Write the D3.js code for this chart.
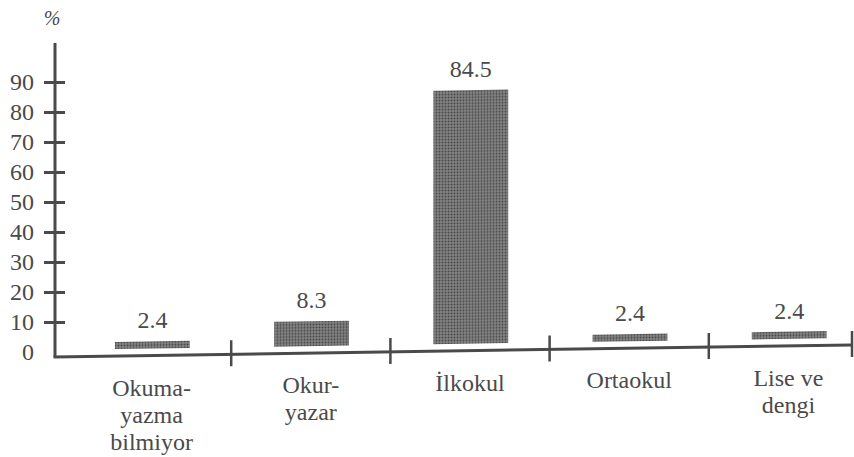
<!DOCTYPE html>
<html><head><meta charset="utf-8">
<script src="https://cdn.jsdelivr.net/npm/d3@7"></script>
<style>body{margin:0;background:#fff}svg{display:block}</style>
</head><body>
<script>
const categories = [["Okuma-","yazma","bilmiyor"],["Okur-","yazar"],["İlkokul"],["Ortaokul"],["Lise ve","dengi"]];
const values = [2.4, 8.3, 84.5, 2.4, 2.4];
const valueLabels = ["2.4","8.3","84.5","2.4","2.4"];
const yTicks = [0,10,20,30,40,50,60,70,80,90];

const W=854,H=457;
const FONT="Liberation Serif";
const ink="#4a4a4a";
const svg=d3.select("body").append("svg").attr("width",W).attr("height",H);
const defs=svg.append("defs");
const pat=defs.append("pattern").attr("id","dots").attr("width",3).attr("height",3).attr("patternUnits","userSpaceOnUse");
pat.append("rect").attr("width",3).attr("height",3).attr("fill","#858585");
pat.append("circle").attr("cx",1.5).attr("cy",1.5).attr("r",1.05).attr("fill","#444");

const x=d3.scaleBand().domain(d3.range(categories.length)).range([72,868]).paddingInner(0).paddingOuter(0);
const y=d3.scaleLinear().domain([0,100]).range([352,52]);
const axisX=55;
const base=y(0)+5;
const SKEW=-0.87;
const tilt=px=>(px-axisX)*Math.tan(SKEW*Math.PI/180);

// slight scan tilt of the original page (marks only; text stays upright)
const root=svg.append("g").attr("transform",`translate(${axisX},${y(0)}) skewY(${SKEW}) translate(${-axisX},${-y(0)})`);

// bars
root.selectAll("rect.bar").data(values).join("rect").attr("class","bar")
  .attr("x",(d,i)=>x(i)+x.bandwidth()*0.27).attr("width",x.bandwidth()*0.47)
  .attr("y",d=>y(d)-2).attr("height",d=>y(0)-y(d)).attr("fill","url(#dots)");

// value labels
svg.selectAll("text.val").data(values).join("text").attr("class","val")
  .attr("x",(d,i)=>x(i)+x.bandwidth()*0.505).attr("y",(d,i)=>y(d)-15+tilt(x(i)+x.bandwidth()*0.505))
  .attr("text-anchor","middle").attr("font-size",24).attr("fill",ink).attr("font-family",FONT).text((d,i)=>valueLabels[i]);

// y axis
const yAxis=d3.axisLeft(y).tickValues(yTicks).tickSize(0).tickPadding(0);
const gy=svg.append("g").attr("transform",`translate(${axisX},0)`).call(yAxis);
gy.attr("font-family",FONT);
gy.select(".domain").remove();
gy.selectAll(".tick text").attr("x",-21).attr("font-size",24).attr("fill",ink).attr("font-family",FONT);
gy.selectAll(".tick").filter(d=>d>0).append("line").attr("x1",-11).attr("x2",10).attr("stroke",ink).attr("stroke-width",3);
root.append("line").attr("x1",axisX).attr("x2",axisX).attr("y1",43).attr("y2",base).attr("stroke",ink).attr("stroke-width",3);
svg.append("text").attr("x",52).attr("y",25).attr("text-anchor","middle").attr("font-size",20).attr("font-style","italic").attr("fill",ink).attr("font-family",FONT).text("%");

// x axis baseline
root.append("line").attr("x1",axisX-1.5).attr("x2",852).attr("y1",base).attr("y2",base).attr("stroke",ink).attr("stroke-width",3);
const bounds=d3.range(1,categories.length+1).map(i=>x(i-1)+x.bandwidth());
root.selectAll("line.xt").data(bounds).join("line").attr("class","xt")
  .attr("x1",d=>Math.min(d,852)).attr("x2",d=>Math.min(d,852)).attr("y1",base-14).attr("y2",base+12).attr("stroke",ink).attr("stroke-width",2.5);

// category labels
const cg=svg.selectAll("g.cat").data(categories).join("g").attr("class","cat")
  .attr("transform",(d,i)=>{const cx=x(i)+x.bandwidth()/2;return `translate(${cx},${base+40+tilt(cx)})`;});
cg.selectAll("text").data(d=>d).join("text").attr("text-anchor","middle").attr("font-size",24)
  .attr("fill",ink).attr("font-family",FONT).attr("y",(d,i)=>i*27).text(d=>d);
</script>
</body></html>
